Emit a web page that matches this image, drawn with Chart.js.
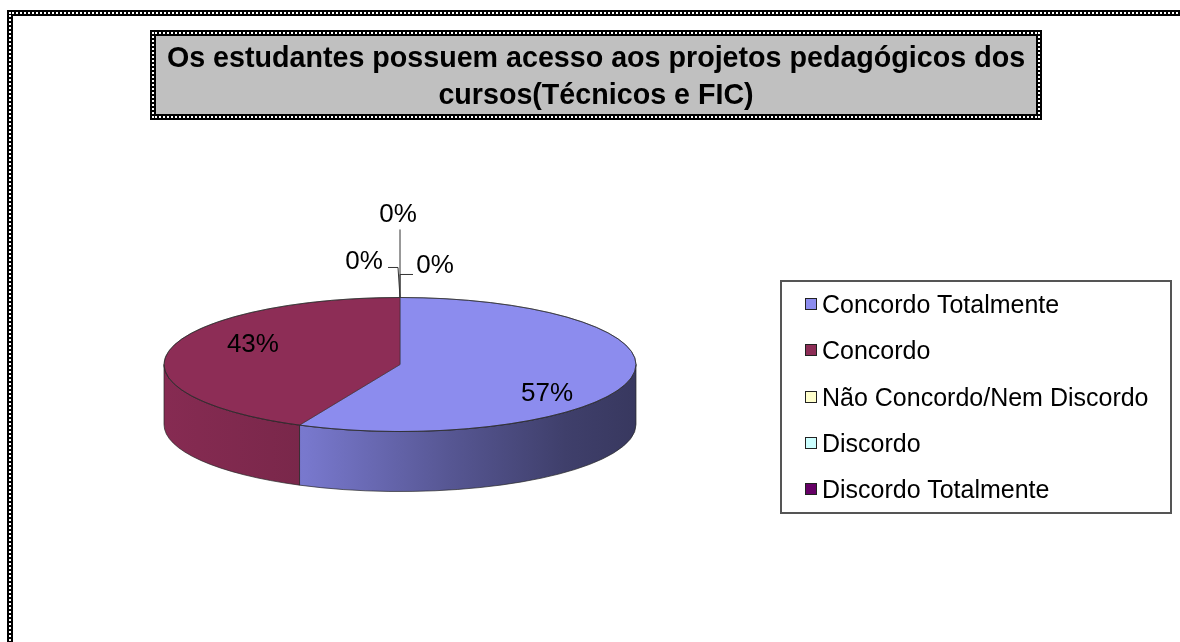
<!DOCTYPE html>
<html>
<head>
<meta charset="utf-8">
<script src="https://cdn.jsdelivr.net/npm/chart.js@4.4.1/dist/chart.umd.min.js"></script>
<style>
html, body { margin: 0; padding: 0; background: #fff; }
#wrap { position: relative; width: 1180px; height: 642px; overflow: hidden; font-family: "Liberation Sans", Arial, sans-serif; }
#frame { position: absolute; left: 7px; top: 10px; width: 1240px; height: 660px; box-sizing: border-box; border: 6px solid #000; }
#frame::after, #title::after { content: ""; position: absolute; left: -4px; top: -4px; right: -4px; bottom: -4px; border: 2px dotted #fff; }
#title { position: absolute; left: 150px; top: 30px; width: 892px; height: 90px; box-sizing: border-box; border: 6px solid #000; background: #c0c0c0; text-align: center; font-weight: bold; font-size: 30px; line-height: 37px; padding-top: 2px; color: #000; }
#title div { margin: 0 -60px; transform: scaleX(0.955); transform-origin: 50% 50%; white-space: nowrap; }
#chart { position: absolute; left: 0; top: 0; }
#legend { position: absolute; left: 780px; top: 280px; width: 392px; height: 234px; box-sizing: border-box; border: 2px solid #555; }
.item { position: absolute; left: 23px; font-size: 25px; line-height: 28px; color: #000; white-space: nowrap; }
.item span { display: inline-block; width: 10px; height: 10px; border: 1px solid #222; margin-right: 5px; vertical-align: 3px; }
</style>
</head>
<body>
<div id="wrap">
  <div id="frame"></div>
  <canvas id="chart" width="1180" height="642"></canvas>
  <div id="title"><div>Os estudantes possuem acesso aos projetos pedagógicos dos</div><div>cursos(Técnicos e FIC)</div></div>
  <div id="legend"></div>
</div>
<script>
// respostas
const categories = ['Concordo Totalmente', 'Concordo', 'Não Concordo/Nem Discordo', 'Discordo', 'Discordo Totalmente'];
const percentages = [57, 43, 0, 0, 0];
const sliceColors = ['#8c8cee', '#8d2d56', '#ffffcc', '#ccffff', '#660066'];

const tilt = 0.284;   // vertical squash of the pie
const depth = 60;     // thickness of the 3d side

function shade(hex, f) {
    const n = parseInt(hex.slice(1), 16);
    const r = Math.round(((n >> 16) & 255) * f);
    const g = Math.round(((n >> 8) & 255) * f);
    const b = Math.round((n & 255) * f);
    return 'rgb(' + r + ',' + g + ',' + b + ')';
}

const pie3d = {
    id: 'pie3d',
    beforeDatasetsDraw(chart) {
        const ctx = chart.ctx;
        const arcs = chart.getDatasetMeta(0).data;
        arcs.forEach((arc, i) => {
            const p = arc.getProps(['x', 'y', 'startAngle', 'endAngle', 'outerRadius']);
            const a = Math.max(p.startAngle, 0);
            const b = Math.min(p.endAngle, Math.PI);
            if (b <= a) return;
            const r = p.outerRadius;
            const grad = ctx.createLinearGradient(p.x - r, 0, p.x + r, 0);
            grad.addColorStop(0, shade(sliceColors[i], 0.95));
            grad.addColorStop(0.3, shade(sliceColors[i], 0.86));
            grad.addColorStop(0.6, shade(sliceColors[i], 0.62));
            grad.addColorStop(0.85, shade(sliceColors[i], 0.45));
            grad.addColorStop(1, shade(sliceColors[i], 0.40));
            ctx.beginPath();
            ctx.ellipse(p.x, p.y, r, r * tilt, 0, a, b);
            ctx.ellipse(p.x, p.y + depth, r, r * tilt, 0, b, a, true);
            ctx.closePath();
            ctx.fillStyle = grad;
            ctx.fill();
            ctx.lineWidth = 1;
            ctx.strokeStyle = 'rgba(40,40,40,0.7)';
            ctx.stroke();
        });
        const c = arcs[0];
        ctx.save();
        ctx.translate(c.x, c.y);
        ctx.scale(1, tilt);
        ctx.translate(-c.x, -c.y);
    },
    afterDatasetsDraw(chart) {
        const ctx = chart.ctx;
        ctx.restore();
        const arcs = chart.getDatasetMeta(0).data;
        const c = arcs[0];
        const r = c.outerRadius;
        ctx.beginPath();
        ctx.ellipse(c.x, c.y, r, r * tilt, 0, 0, Math.PI * 2);
        ctx.lineWidth = 1;
        ctx.strokeStyle = 'rgba(40,40,40,0.7)';
        ctx.stroke();

        ctx.font = '26px "Liberation Sans", Arial, sans-serif';
        ctx.fillStyle = '#000';
        ctx.textAlign = 'center';
        ctx.textBaseline = 'middle';
        const nudge = [[2, 20], [-2, -10]];
        const zeroLabels = [
            { leader: [[0, -23], [13, -23]], at: [35, -32] },
            { leader: [[-2, -30], [-12, -30]], at: [-36, -36] },
            { leader: [[0, -68]], at: [-2, -83] }
        ];
        let z = 0;
        arcs.forEach((arc, i) => {
            const txt = percentages[i] + '%';
            if (percentages[i] > 0) {
                const m = (arc.startAngle + arc.endAngle) / 2;
                const lx = arc.x + r * 0.63 * Math.cos(m) + nudge[i][0];
                const ly = arc.y + r * tilt * 0.63 * Math.sin(m) + nudge[i][1];
                ctx.fillText(txt, lx, ly);
            } else {
                const zl = zeroLabels[z++];
                const tx = arc.x, ty = arc.y - r * tilt;
                ctx.beginPath();
                ctx.moveTo(tx, ty);
                zl.leader.forEach(pt => ctx.lineTo(tx + pt[0], ty + pt[1]));
                ctx.lineWidth = 1;
                ctx.strokeStyle = '#333';
                ctx.stroke();
                ctx.fillText(txt, tx + zl.at[0], ty + zl.at[1]);
            }
        });
    }
};

new Chart(document.getElementById('chart'), {
    type: 'pie',
    data: {
        labels: categories,
        datasets: [{
            data: percentages,
            backgroundColor: sliceColors,
            borderColor: 'rgba(40,40,40,0.8)',
            borderWidth: 1,
            hoverOffset: 0,
            clip: false
        }]
    },
    options: {
        responsive: false,
        devicePixelRatio: 1,
        animation: false,
        layout: { padding: { left: 163, right: 543, top: 128, bottom: 41 } },
        plugins: {
            legend: { display: false },
            tooltip: { enabled: false }
        }
    },
    plugins: [pie3d]
});

// legenda
const legend = document.getElementById('legend');
const rowTops = [8, 54, 101, 147, 193];
categories.forEach((name, i) => {
    const d = document.createElement('div');
    d.className = 'item';
    d.style.top = rowTops[i] + 'px';
    const sw = document.createElement('span');
    sw.style.background = sliceColors[i];
    d.appendChild(sw);
    d.appendChild(document.createTextNode(name));
    legend.appendChild(d);
});
</script>
</body>
</html>
